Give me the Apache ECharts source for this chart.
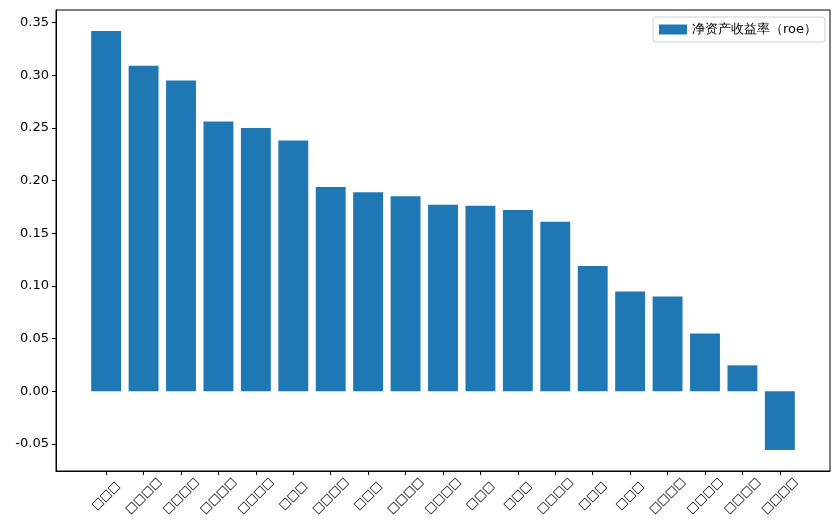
<!DOCTYPE html>
<html>
<head>
<meta charset="utf-8">
<script src="https://cdn.jsdelivr.net/npm/echarts@6/dist/echarts.min.js"></script>
<style>html,body{margin:0;padding:0;background:#fff}#c{width:840px;height:525px}</style>
</head>
<body>
<div id="c"></div>
<script>
// Category names render as missing-glyph boxes in the reference; their character counts are kept.
var categories = ['□□□','□□□□','□□□□','□□□□','□□□□','□□□','□□□□','□□□','□□□□','□□□□','□□□','□□□','□□□□','□□□','□□□','□□□□','□□□□','□□□□','□□□□'];
var roeValues = [0.342, 0.309, 0.295, 0.256, 0.250, 0.238, 0.194, 0.189, 0.185, 0.177, 0.176, 0.172, 0.161, 0.119, 0.0946, 0.0899, 0.0549, 0.0246, -0.0558];
var yTicks = [-0.05, 0.00, 0.05, 0.10, 0.15, 0.20, 0.25, 0.30, 0.35];
var seriesName = '净资产收益率（roe）';

var n = categories.length;
var xMin = -0.4 - 0.05 * (n - 1 + 0.8), xMax = n - 1 + 0.4 + 0.05 * (n - 1 + 0.8);
var dMin = Math.min.apply(null, roeValues.concat([0])), dMax = Math.max.apply(null, roeValues);
var yMin = dMin - 0.05 * (dMax - dMin), yMax = dMax + 0.05 * (dMax - dMin);
var xTicks = categories.map(function (c, i) { return i; });

var chart = echarts.init(document.getElementById('c'), null, {renderer: 'canvas'});
var font = 'DejaVu Sans';
chart.setOption({
  animation: false,
  textStyle: {fontFamily: font},
  grid: {left: 56, right: 10, top: 10, bottom: 54, show: true, borderColor: '#000', borderWidth: 1, containLabel: false},
  legend: {
    right: 15, top: 17, orient: 'vertical',
    itemWidth: 28, itemHeight: 10, icon: 'rect',
    padding: [6, 8, 6, 6],
    borderColor: '#d0d0d0', borderWidth: 1, borderRadius: 3,
    textStyle: {fontFamily: font, fontSize: 13, color: '#000'},
    data: [seriesName]
  },
  xAxis: {
    type: 'value', min: xMin, max: xMax,
    splitLine: {show: false},
    axisLine: {show: true, onZero: false, lineStyle: {color: '#000'}},
    axisTick: {show: true, length: 4, lineStyle: {color: '#000'}, customValues: xTicks},
    axisLabel: {
      customValues: xTicks, rotate: 45, align: 'center', verticalAlign: 'middle', margin: 25,
      fontFamily: font, fontSize: 12, color: '#000',
      formatter: function (v) { return categories[Math.round(v)] || ''; }
    }
  },
  yAxis: {
    type: 'value', min: yMin, max: yMax,
    splitLine: {show: false},
    axisLine: {show: true, onZero: false, lineStyle: {color: '#000'}},
    axisTick: {show: true, length: 4, lineStyle: {color: '#000'}, customValues: yTicks},
    axisLabel: {
      customValues: yTicks, margin: 7, fontFamily: font, fontSize: 13, color: '#000',
      formatter: function (v) { return v.toFixed(2); }
    }
  },
  series: [{
    name: seriesName, type: 'bar', barWidth: 29.9,
    itemStyle: {color: '#1f77b4'},
    data: roeValues.map(function (v, i) { return [i, v]; })
  }]
});
</script>
</body>
</html>
